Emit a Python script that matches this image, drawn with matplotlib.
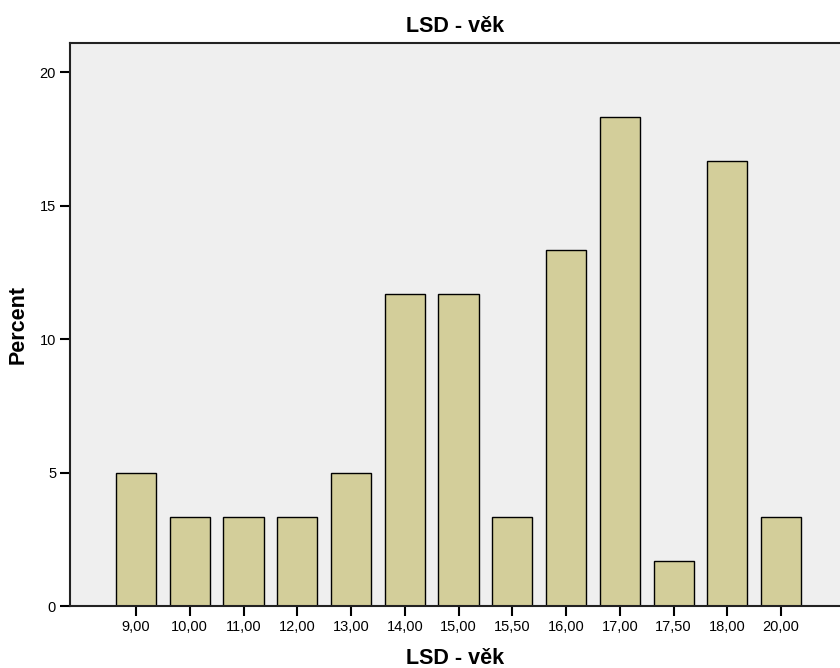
import matplotlib
matplotlib.use('Agg')
import matplotlib.pyplot as plt

plt.rcParams['font.family'] = ['Liberation Sans', 'DejaVu Sans']

# Age categories and their percentages (n = 60)
categories = ['9,00', '10,00', '11,00', '12,00', '13,00', '14,00', '15,00',
              '15,50', '16,00', '17,00', '17,50', '18,00', '20,00']
percents = [5.0, 3.33, 3.33, 3.33, 5.0, 11.67, 11.67,
            3.33, 13.33, 18.33, 1.67, 16.67, 3.33]
y_ticks = [0, 5, 10, 15, 20]

fig = plt.figure(figsize=(8.4, 6.68), dpi=100)
ax = fig.add_axes([70 / 840, 62 / 668, 770 / 840, 563 / 668])
ax.set_facecolor('#efefef')

pos = list(range(len(categories)))
ax.bar(pos, percents, width=0.745, color='#d3ce9a', edgecolor='black', linewidth=1.0, zorder=2)

ax.set_xlim(-1.228, 13.097)
ax.set_ylim(0, 21.09)
ax.set_xticks(pos)
ax.set_xticklabels(categories, fontsize=10.5)
ax.set_yticks(y_ticks)
ax.set_yticklabels([str(t) for t in y_ticks], fontsize=10.5)
ax.tick_params(axis='both', direction='out', length=7, width=1.5, color='black', pad=3)

for side in ['left', 'bottom', 'top']:
    ax.spines[side].set_linewidth(1.5)
    ax.spines[side].set_color('#222222')
ax.spines['right'].set_visible(False)

ax.set_title('LSD - věk', fontsize=15.5, fontweight='bold', pad=8)
ax.set_xlabel('LSD - věk', fontsize=15.5, fontweight='bold', labelpad=10)
ax.set_ylabel('Percent', fontsize=15.5, fontweight='bold', labelpad=8)

fig.savefig('out.png', dpi=100)
